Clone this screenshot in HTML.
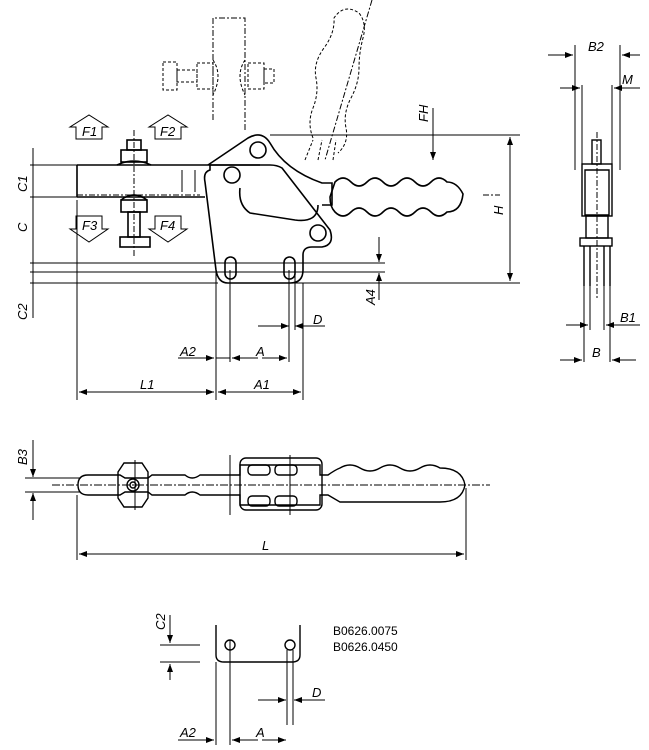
<!DOCTYPE html>
<html><head><style>body{margin:0;background:#fff}svg{display:block}text{font-family:"Liberation Sans",sans-serif;font-style:italic;font-size:13px;fill:#000;stroke:none}</style></head>
<body>
<svg width="649" height="750" viewBox="0 0 649 750" xmlns="http://www.w3.org/2000/svg" fill="none" stroke="#000" stroke-width="1">
<defs><marker id="a" markerWidth="8" markerHeight="6" refX="8" refY="3" orient="auto"><path d="M0,0L8,3L0,6z" fill="#000" stroke="none"/></marker></defs>
<g stroke-dasharray="6,2,2,2">
<path d="M213 120V18H245V130"/>
<path d="M372 0L325 160"/>
<path d="M483 195H500"/>
<path d="M77 195H200"/>
</g>
<g stroke-dasharray="3,2">
<rect x="163" y="62" width="14" height="28"/><rect x="177" y="70" width="20" height="12"/><rect x="197" y="63" width="16" height="26"/><path d="M213 60q10 15 0 35"/>
<path d="M245 60q-10 15 0 35"/><rect x="248" y="63" width="16" height="26"/><rect x="264" y="69" width="10" height="14"/>
<path d="M313 138q-6-15 0-30t3-30t8-30t10-30q10-15 25-5q8 10 4 25t-4 30t-8 30t-5 30t-8 25"/>
<path d="M305 160L313 140M318 160L322 140M333 160L336 140"/>
</g>
<g stroke-width="1"><path d="M70 127h6v12h26v-12h6l-19-12z"/><path d="M149 127h6v12h26v-12h6l-19-12z"/><path d="M70 229h6v-13h26v13h6l-19 13z"/><path d="M149 229h6v-13h26v13h6l-19 13z"/></g>
<text x="82" y="136">F1</text><text x="160" y="136">F2</text><text x="82" y="230">F3</text><text x="160" y="230">F4</text>
<path d="M77 165H260M77 197H205M77 165V197" stroke-width="1.6"/>
<path d="M182 170v22M195 170v22"/>
<g stroke-width="1.6"><rect x="127" y="140" width="14" height="10"/><rect x="121" y="150" width="26" height="12"/><path d="M117 165q17-8 34 0"/><path d="M121 200q13-10 26 0"/><rect x="121" y="200" width="26" height="12"/><rect x="128" y="212" width="12" height="25"/><rect x="120" y="237" width="30" height="10"/></g>
<path d="M134 130V258" stroke-dasharray="6,2,2,2"/>
<g stroke-width="1.6">
<path d="M210 170Q203 172 205 182L216 270Q218 283 228 283H290Q303 283 303 270V255Q303 247 312 247H322Q335 245 330 230L282 168Q277 165 270 165H210Z"/>
<path d="M240 188Q238 205 250 213L295 220Q318 223 318 205"/>
<path d="M208 165L248 138Q262 130 270 143Q285 170 322 183H332V205H322"/>
<circle cx="258" cy="150" r="8"/><circle cx="232" cy="175" r="8"/><circle cx="318" cy="233" r="8"/>
<rect x="225" y="257" width="11" height="22" rx="5.5"/><rect x="284" y="257" width="11" height="22" rx="5.5"/>
<path d="M335 182q8-8 16 0t16 0t16 0t16 0t16 0t16 0t16 0q10 0 16 12q-2 18-16 18q-8 8-16 0t-16 0t-16 0t-16 0t-16 0t-16 0t-16 0q-5-5-5-15z"/>
</g>
<path d="M433 108V160" marker-end="url(#a)"/>
<text transform="translate(428 122) rotate(-90)">FH</text>
<path d="M270 135H520M290 283H520M30 283H218M30 165H77M30 197H77M30 263H385M30 272H385"/>
<path d="M510 209V137" marker-end="url(#a)"/><path d="M510 209V281" marker-end="url(#a)"/>
<text transform="translate(503 215) rotate(-90)">H</text>
<path d="M33 148V318"/><path d="M379 237V262" marker-end="url(#a)"/><path d="M379 300V273" marker-end="url(#a)"/>
<text transform="translate(27 192) rotate(-90)">C1</text><text transform="translate(27 232) rotate(-90)">C</text><text transform="translate(27 320) rotate(-90)">C2</text><text transform="translate(375 305) rotate(-90)">A4</text>
<path d="M77 200V400M216 270V400M230 270V362M289 270V362M295 270V330M303 283V400"/>
<path d="M258 326H289" marker-end="url(#a)"/><path d="M325 326H295" marker-end="url(#a)"/><text x="313" y="324">D</text>
<path d="M178 358H214" marker-end="url(#a)"/><path d="M216 358H230"/><path d="M258 358H232" marker-end="url(#a)"/><path d="M262 358H287" marker-end="url(#a)"/>
<text x="180" y="356">A2</text><text x="256" y="356">A</text>
<path d="M147 392H79" marker-end="url(#a)"/><path d="M147 392H214" marker-end="url(#a)"/><path d="M260 392H218" marker-end="url(#a)"/><path d="M260 392H301" marker-end="url(#a)"/>
<text x="140" y="389">L1</text><text x="254" y="389">A1</text>
<g stroke-width="1.4"><rect x="592" y="140" width="9" height="24"/><rect x="582" y="164" width="30" height="52"/><path d="M585 170h24v45h-24z"/><rect x="586" y="216" width="22" height="22"/><rect x="580" y="238" width="32" height="8"/><path d="M584 246v40M590 246v40M604 246v40M610 246v40"/></g>
<path d="M597 132V300" stroke-dasharray="6,2,2,2"/>
<path d="M575 45V170M620 45V170M582 85V170M612 85V170M584 286V362M610 286V362M590 286V330M604 286V330"/>
<path d="M548 55H573" marker-end="url(#a)"/><path d="M640 55H622" marker-end="url(#a)"/><text x="588" y="51">B2</text>
<path d="M560 88H580" marker-end="url(#a)"/><path d="M640 88H614" marker-end="url(#a)"/><text x="622" y="84">M</text>
<path d="M566 325H588" marker-end="url(#a)"/><path d="M640 325H606" marker-end="url(#a)"/><text x="620" y="322">B1</text>
<path d="M560 360H582" marker-end="url(#a)"/><path d="M636 360H612" marker-end="url(#a)"/><text x="592" y="357">B</text>
<path d="M52 485H490" stroke-dasharray="8,2,2,2"/>
<g stroke-width="1.4">
<path d="M88 475H120L125 478H148L152 475H185Q192 481 200 475H240V465H320V475H328Q335 470 340 468Q350 462 360 468T380 468T400 468T420 468T440 468Q462 468 465 485Q462 502 440 502T420 502T400 502T380 502T360 502T340 502L328 495H320V505H240V495H200Q192 489 185 495H152L148 492H125L120 495H88Q78 495 78 485Q78 475 88 475Z"/>
<path d="M118 472L124 463H142L148 472L148 498L142 507H124L118 498Z"/><circle cx="133" cy="485" r="6"/><circle cx="133" cy="485" r="3"/>
<rect x="240" y="458" width="82" height="52" rx="6"/><rect x="248" y="465" width="22" height="10" rx="4"/><rect x="275" y="465" width="22" height="10" rx="4"/><rect x="248" y="496" width="22" height="10" rx="4"/><rect x="275" y="496" width="22" height="10" rx="4"/>
</g>
<path d="M135 460V510M230 455V515M290 455V515"/>
<path d="M25 478H80M25 492H80"/><path d="M33 440V477" marker-end="url(#a)"/><path d="M33 520V493" marker-end="url(#a)"/>
<text transform="translate(27 465) rotate(-90)">B3</text>
<path d="M77 495V560M466 488V560"/><path d="M270 554H79" marker-end="url(#a)"/><path d="M270 554H464" marker-end="url(#a)"/><text x="262" y="550">L</text>
<path d="M216 625V655Q216 662 224 662H292Q300 662 300 655V625" stroke-width="1.4"/>
<circle cx="230" cy="645" r="5" stroke-width="1.4"/><circle cx="290" cy="645" r="5" stroke-width="1.4"/>
<path d="M160 645H200M160 662H200M216 662V745M230 640V745M287 650V725M293 650V725"/>
<path d="M170 615V643" marker-end="url(#a)"/><path d="M170 680V664" marker-end="url(#a)"/><text transform="translate(165 630) rotate(-90)">C2</text>
<path d="M258 700H286" marker-end="url(#a)"/><path d="M325 700H294" marker-end="url(#a)"/><text x="312" y="697">D</text>
<path d="M178 740H214" marker-end="url(#a)"/><path d="M258 740H232" marker-end="url(#a)"/><path d="M262 740H286" marker-end="url(#a)"/>
<text x="180" y="737">A2</text><text x="256" y="737">A</text>
<text x="333" y="635" style="font-style:normal;font-size:12px">B0626.0075</text>
<text x="333" y="651" style="font-style:normal;font-size:12px">B0626.0450</text>
</svg>
</body></html>
